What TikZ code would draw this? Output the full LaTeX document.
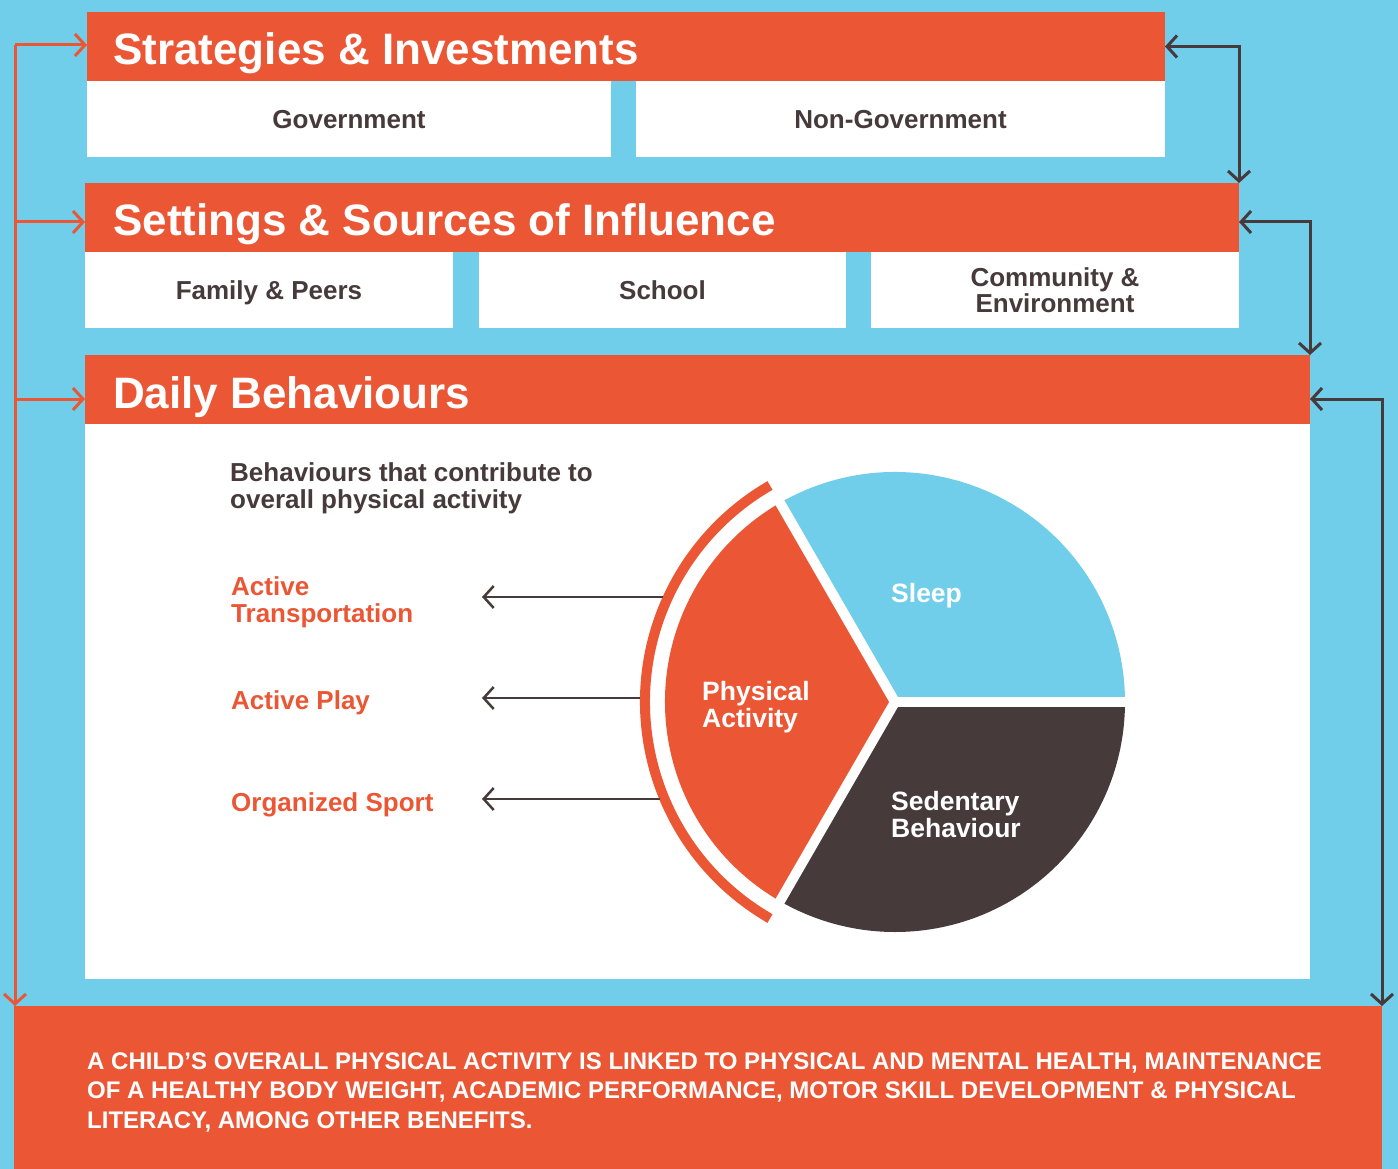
\documentclass[tikz,border=0pt]{standalone}
\usepackage{fontspec}
\setmainfont{Liberation Sans}
\usetikzlibrary{arrows.meta}
\definecolor{cOr}{HTML}{EB5735}
\definecolor{cBl}{HTML}{71CEEB}
\definecolor{cDk}{HTML}{463A3A}
\begin{document}
\begin{tikzpicture}[x=1pt,y=-1pt,
  hdr/.style={fill=cOr, inner sep=0, outer sep=0, anchor=north west, minimum height=69},
  cellbox/.style={fill=white, inner sep=0, outer sep=0, anchor=north west, minimum height=76,
    text=cDk, font=\bfseries\fontsize{26}{26}\selectfont},
  cellone/.style={cellbox, text height=22pt, text depth=3pt},
  celltwo/.style={cellbox, align=center},
  title/.style={anchor=base west, text=white, inner sep=0, font=\bfseries\fontsize{44}{48}\selectfont},
  darr/.style={draw=cDk, line width=3pt, {Straight Barb[length=10pt,width=22pt]}-{Straight Barb[length=10pt,width=22pt]}},
  oarr/.style={draw=cOr, line width=3pt, -{Straight Barb[length=10pt,width=22pt]}},
  parr/.style={draw=cDk, line width=2.5pt, -{Straight Barb[length=10pt,width=22pt]}},
  lbl/.style={anchor=base west, inner sep=0, align=left, font=\bfseries\fontsize{26}{27}\selectfont},
  plbl/.style={anchor=base west, inner sep=0, align=left, text=white, font=\bfseries\fontsize{26.5}{27}\selectfont}
]
\useasboundingbox (0,0) rectangle (1398,1169);
\fill[cBl] (0,0) rectangle (1398,1169);

% level 1
\node[hdr, minimum width=1078] (h1) at (87,12) {};
\node[cellone, minimum width=524] (gov) at (87,81) {Government};
\node[cellone, minimum width=529] (ngov) at (636,81) {Non-Government};
\node[title] (t1) at (113,65) {Strategies \& Investments};

% level 2
\node[hdr, minimum width=1154] (h2) at (85,183) {};
\node[cellone, minimum width=368] (fam) at (85,252) {Family \& Peers};
\node[cellone, minimum width=367] (sch) at (479,252) {School};
\node[celltwo, minimum width=368] (com) at (871,252) {Community \&\\Environment};
\node[title] (t2) at (113,236) {Settings \& Sources of Influence};

% level 3
\node[hdr, minimum width=1225] (h3) at (85,355) {};
\node[fill=white, inner sep=0, outer sep=0, anchor=north west, minimum width=1225, minimum height=555] (panel) at (85,424) {};
\node[title] (t3) at (113,408) {Daily Behaviours};

% bottom
\node[fill=cOr, inner sep=0, outer sep=0, anchor=north west, minimum width=1368, minimum height=163] (bot) at (14,1006) {};
\node[anchor=base west, inner sep=0, text=white, align=left, font=\bfseries\fontsize{24}{29.5}\selectfont] (btxt) at (87,1128)
  {A CHILD’S OVERALL PHYSICAL ACTIVITY IS LINKED TO PHYSICAL AND MENTAL HEALTH, MAINTENANCE\\OF A HEALTHY BODY WEIGHT, ACADEMIC PERFORMANCE, MOTOR SKILL DEVELOPMENT \& PHYSICAL\\LITERACY, AMONG OTHER BENEFITS.};

% left connectors
\coordinate (L) at (15,45);
\coordinate (a2) at ([yshift=-4.5pt]h2.west);
\coordinate (a3) at ([yshift=-9.5pt]h3.west);
\draw[oarr] (L) -- (L |- bot.north);
\draw[oarr] (L) -- (L -| h1.west);
\draw[oarr] (L |- a2) -- (a2);
\draw[oarr] (L |- a3) -- (a3);

% right connectors
\coordinate (b2) at ([yshift=-4.5pt]h2.east);
\coordinate (b3) at ([yshift=-9.5pt]h3.east);
\draw[darr] (h1.east) -| (h2.north east);
\draw[darr] (b2) -| (h3.north east);
\draw[darr] (b3) -| (bot.north east);

% pie
\coordinate (C) at (895,702);
\fill[cBl] (C) -- ++(-120:230) arc[start angle=-120,end angle=0,radius=230] -- cycle;
\fill[cOr] (C) -- ++(120:230) arc[start angle=120,end angle=240,radius=230] -- cycle;
\fill[cDk] (C) -- ++(0:230) arc[start angle=0,end angle=120,radius=230] -- cycle;
\draw[white, line width=10pt] (C) -- ++(0:240);
\draw[white, line width=10pt] (C) -- ++(120:240);
\draw[white, line width=10pt] (C) -- ++(240:240);
\draw[cOr, line width=10pt] (C) ++(120:250) arc[start angle=120,end angle=240,radius=250];

\node[plbl] (sleep) at (891,602) {Sleep};
\node[plbl] (pa) at (702,727) {Physical\\Activity};
\node[plbl] (sed) at (891,837) {Sedentary\\Behaviour};

% left texts
\node[lbl, text=cDk] (beh) at (230,508) {Behaviours that contribute to\\overall physical activity};
\node[lbl, text=cOr] (at) at (231,622) {Active\\Transportation};
\node[lbl, text=cOr] (ap) at (231,709) {Active Play};
\node[lbl, text=cOr] (os) at (231,811) {Organized Sport};

\coordinate (p1) at (663,597);
\coordinate (p2) at (640,698);
\coordinate (p3) at (660,799);
\coordinate (q1) at (482,597);
\coordinate (q2) at (482,698);
\coordinate (q3) at (482,799);
\draw[parr] (p1) -- (q1);
\draw[parr] (p2) -- (q2);
\draw[parr] (p3) -- (q3);
\end{tikzpicture}
\end{document}
